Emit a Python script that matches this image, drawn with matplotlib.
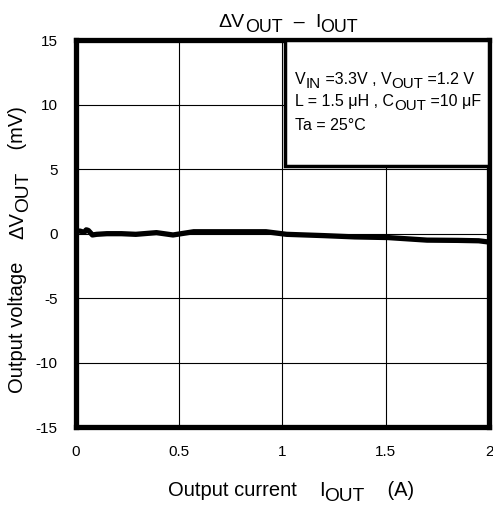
import numpy as np
import matplotlib
matplotlib.use("Agg")
import matplotlib.pyplot as plt
from matplotlib.patches import Rectangle
from matplotlib.transforms import ScaledTranslation

plt.rcParams["font.family"] = ["Liberation Sans", "DejaVu Sans"]

# Output current (A) and output voltage change (mV)
current = [0.0, 0.02, 0.04, 0.05, 0.06, 0.08, 0.10, 0.15, 0.22, 0.29, 0.39, 0.47,
           0.57, 0.70, 0.85, 0.92, 1.02, 1.20, 1.35, 1.51, 1.70, 1.85, 1.95, 2.0]
dvout = [0.2, 0.2, 0.1, 0.3, 0.25, -0.1, -0.05, 0.0, 0.0, -0.05, 0.08, -0.1,
         0.15, 0.15, 0.15, 0.15, -0.05, -0.15, -0.25, -0.3, -0.5, -0.52, -0.55, -0.65]

xticks = [0, 0.5, 1, 1.5, 2]
xtick_labels = ["0", "0.5", "1", "1.5", "2"]
yticks = [-15, -10, -5, 0, 5, 10, 15]
ytick_labels = ["-15", "-10", "-5", "0", "5", "10", "15"]

fig = plt.figure(figsize=(4.93, 5.08), dpi=100)
ax = fig.add_axes([0.154, 0.159, 0.838, 0.762])


# text made of pieces, some of them lowered like the "OUT" in V_OUT
def rich_text(x, y, parts, size, trans, ha="left", rotation=0, sub_scale=0.88, zorder=5):
    renderer = fig.canvas.get_renderer()
    pieces = []
    total = 0
    for s, sub in parts:
        fs = size * sub_scale if sub else size
        t = fig.text(x, y, s, fontsize=fs, transform=trans, ha="left", va="baseline",
                     rotation=rotation, rotation_mode="anchor", zorder=zorder)
        bb = t.get_window_extent(renderer)
        w = bb.height if rotation == 90 else bb.width
        pieces.append((t, sub, w))
        total += w
    pos = 0 if ha == "left" else -total / 2
    for t, sub, w in pieces:
        dx, dy = pos, (-size * 0.25 * fig.dpi / 72 if sub else 0)
        if rotation == 90:
            dx, dy = -dy, dx
        t.set_transform(trans + ScaledTranslation(dx / fig.dpi, dy / fig.dpi, fig.dpi_scale_trans))
        pos += w


ax.plot(current, dvout, color="black", linewidth=3.8, zorder=3)

ax.set_xlim(0, 2)
ax.set_ylim(-15, 15)
ax.set_xticks(xticks)
ax.set_xticklabels(xtick_labels)
ax.set_yticks(yticks)
ax.set_yticklabels(ytick_labels)
ax.tick_params(length=0, labelsize=11)
ax.tick_params(axis="x", pad=13)
ax.tick_params(axis="y", pad=13)
ax.grid(True, color="black", linewidth=0.8)
ax.set_axisbelow(True)
for s in ax.spines.values():
    s.set_linewidth(3.8)

# condition box
ax.add_patch(Rectangle((1.01, 5.26), 0.99, 9.74, facecolor="white", edgecolor="black",
                       linewidth=2.5, zorder=4))
rich_text(1.06, 11.57, [("V", False), ("IN", True), (" =3.3V , V", False), ("OUT", True), (" =1.2 V", False)],
          11.5, ax.transData, sub_scale=0.95)
rich_text(1.06, 9.89, [("L = 1.5 μH , C", False), ("OUT", True), (" =10 μF", False)],
          11.5, ax.transData, sub_scale=0.95)
rich_text(1.06, 8.03, [("Ta = 25°C", False)], 11.5, ax.transData)

# title and axis labels
rich_text(0.585, 0.947, [("ΔV", False), ("OUT", True), ("  –  ", False), ("I", False), ("OUT", True)],
          14, fig.transFigure, ha="center", sub_scale=0.92)
rich_text(0.59, 0.024, [("Output current    ", False), ("I", False), ("OUT", True), ("    (A)", False)],
          14.5, fig.transFigure, ha="center", sub_scale=0.95)
rich_text(0.047, 0.509, [("Output voltage    ", False), ("ΔV", False), ("OUT", True), ("    (mV)", False)],
          14.5, fig.transFigure, ha="center", rotation=90, sub_scale=0.95)

fig.savefig("out.png", dpi=100)
